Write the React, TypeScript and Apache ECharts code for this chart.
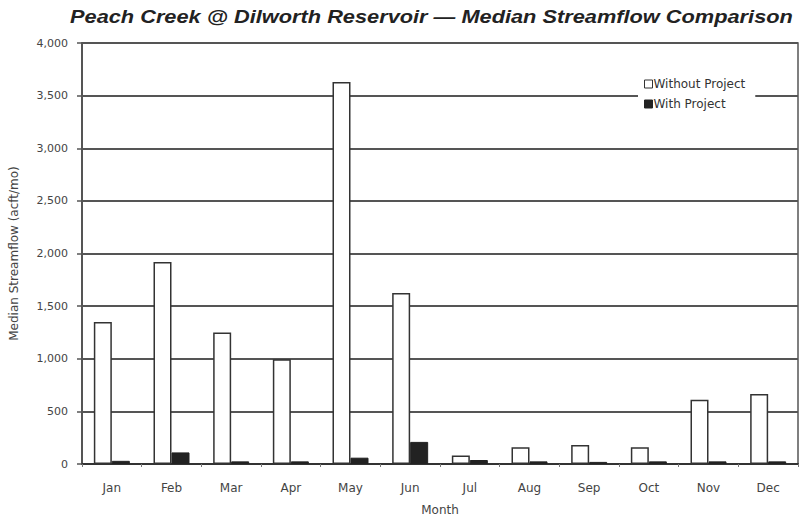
import React, { useEffect, useRef } from "react";
import * as echarts from "echarts";

const months = ["Jan", "Feb", "Mar", "Apr", "May", "Jun", "Jul", "Aug", "Sep", "Oct", "Nov", "Dec"];
const withoutProject = [1350, 1920, 1250, 995, 3630, 1625, 80, 160, 180, 160, 610, 665];
const withProject = [30, 110, 25, 25, 60, 210, 38, 25, 20, 25, 25, 25];
const yTicks = [0, 500, 1000, 1500, 2000, 2500, 3000, 3500, 4000];

const FONT = "'DejaVu Sans', 'Liberation Sans', Arial, sans-serif";
const TITLE_FONT = "'Liberation Sans', Arial, sans-serif";

export default function App() {
  const ref = useRef<HTMLDivElement>(null);
  useEffect(() => {
    if (!ref.current) return;
    const chart = echarts.init(ref.current, undefined, { renderer: "svg" });
    chart.setOption({
      animation: false,
      backgroundColor: "#ffffff",
      graphic: [
        {
          type: "text",
          x: 70,
          y: 8,
          scaleX: 1.21,
          style: {
            text: "Peach Creek @ Dilworth Reservoir \u2014 Median Streamflow Comparison",
            font: "italic bold 18px " + TITLE_FONT,
            fill: "#222",
          },
        },
      ],
      legend: {
        orient: "vertical",
        left: 638,
        top: 74,
        icon: "rect",
        itemWidth: 8,
        itemHeight: 8,
        itemGap: 8,
        padding: [4, 10, 4, 6],
        backgroundColor: "#ffffff",
        textStyle: { fontFamily: FONT, fontSize: 12, color: "#333", padding: [0, 0, 0, -4] },
        data: [
          { name: "Without Project", itemStyle: { color: "#ffffff", borderColor: "#333", borderWidth: 1 } },
          { name: "With Project", itemStyle: { color: "#222", borderColor: "#222", borderWidth: 1 } },
        ],
      },
      grid: {
        left: 82,
        right: 9,
        top: 43,
        bottom: 56,
        outerBoundsMode: "none",
        containLabel: false,
        show: true,
        borderColor: "#555",
        borderWidth: 1.5,
        backgroundColor: "transparent",
      },
      xAxis: {
        type: "category",
        data: months,
        name: "Month",
        nameLocation: "middle",
        nameGap: 40,
        nameTextStyle: { fontFamily: FONT, fontSize: 12, color: "#444" },
        axisLine: { lineStyle: { color: "#333", width: 2 } },
        axisTick: { show: true, length: 3, lineStyle: { color: "#777" } },
        axisLabel: { fontFamily: FONT, fontSize: 12, color: "#444", margin: 18 },
      },
      yAxis: {
        type: "value",
        min: 0,
        max: 4000,
        interval: 500,
        name: "Median Streamflow (acft/mo)",
        nameLocation: "middle",
        nameGap: 62,
        nameTextStyle: { fontFamily: FONT, fontSize: 12, color: "#444" },
        axisLine: { show: true, lineStyle: { color: "#555", width: 2 } },
        axisTick: { show: true, length: 5, lineStyle: { color: "#555", width: 1.5 } },
        axisLabel: {
          fontFamily: FONT,
          fontSize: 11,
          color: "#444",
          margin: 14,
          formatter: (v: number) => (yTicks.includes(v) ? v.toLocaleString("en-US") : ""),
        },
        splitLine: { show: true, lineStyle: { color: "#555", width: 1.8 } },
      },
      series: [
        {
          name: "Without Project",
          type: "bar",
          data: withoutProject,
          barWidth: 18,
          barGap: "0%",
          itemStyle: { color: "#ffffff", borderColor: "#333", borderWidth: 1.5 },
          z: 3,
        },
        {
          name: "With Project",
          type: "bar",
          data: withProject,
          barWidth: 18,
          barGap: "0%",
          itemStyle: { color: "#222", borderColor: "#222", borderWidth: 1 },
          z: 3,
        },
      ],
    });
    return () => chart.dispose();
  }, []);
  return <div ref={ref} style={{ width: 807, height: 520, position: "absolute", left: 0, top: 0 }} />;
}
